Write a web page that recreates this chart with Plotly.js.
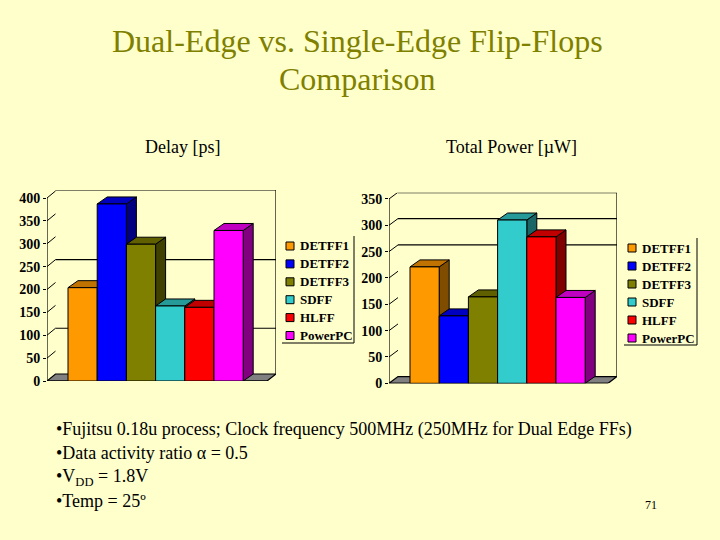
<!DOCTYPE html>
<html><head><meta charset="utf-8">
<script src="https://cdn.plot.ly/plotly-3.0.1.min.js"></script>
<style>html,body{margin:0;padding:0;background:#FFFFCC}</style>
</head><body><div id="chart" style="width:720px;height:540px"></div>
<script>
var seriesNames = ['DETFF1','DETFF2','DETFF3','SDFF','HLFF','PowerPC'];
var delayValues = [204,387,299,164,161,329];
var powerValues = [221,128,164,310,278,163];
var frontColors = ['#FF9900','#0000FF','#808000','#33CCCC','#FF0000','#FF00FF'];
var topColors   = ['#C07300','#0000C0','#606000','#269999','#C00000','#C000C0'];
var sideColors  = ['#804D00','#000080','#404000','#1A6666','#800000','#800080'];
var delayTicks = [0,50,100,150,200,250,300,350,400];
var powerTicks = [0,50,100,150,200,250,300,350];
var delayGrid = [100,250];
var powerGrid = [250,300];

var W = 720, H = 540, SERIF = '"Liberation Serif", serif';
var shapes = [], annotations = [], layout = {
  width: W, height: H, margin: {l:0,r:0,t:0,b:0}, paper_bgcolor:'#FFFFCC', plot_bgcolor:'rgba(0,0,0,0)',
  showlegend:false, font:{family:SERIF,color:'#000'}, bargap:0
};
var px = function(x){return x/W;}, py = function(y){return 1-y/H;};

function addChart(n, values, ticks, grid, g, leg){
  var xn='x'+(n===1?'':n), yn='y'+(n===1?'':n);
  var unitY = g.yPerUnit, unitX = g.barW;
  var xMin = -0.5-(g.barL-g.left)/unitX, xMax = xMin+(g.right-g.left)/unitX;
  var yMax = (g.zero-g.top)/unitY;
  layout['xaxis'+(n===1?'':n)] = {domain:[px(g.left),px(g.right)], range:[xMin,xMax], type:'category',
    categoryorder:'array', categoryarray:seriesNames, showgrid:false, zeroline:false, showline:false, ticks:'', showticklabels:false, anchor:yn};
  layout['yaxis'+(n===1?'':n)] = {domain:[py(g.zero),py(g.top)], range:[0,yMax], tickvals:ticks, showgrid:false, zeroline:false, showline:false,
    ticks:'outside', ticklen:3, tickwidth:1, tickcolor:'#000', tickfont:{family:SERIF,size:14,weight:'bold',color:'#000'}, anchor:xn};
  var wx=g.wallDx/unitX, wy=g.wallDy/unitY, bx=g.barDx/unitX, by=g.barDy/unitY;
  var xFront=xMin+g.floorW/unitX, maxTick=ticks[ticks.length-1];
  function path(pts,fill,lw){
    shapes.push({type:'path',xref:xn,yref:yn,layer:'below',
      path:'M'+pts.map(function(p){return p[0]+','+p[1];}).join('L')+(fill?'Z':''),
      fillcolor:fill||'rgba(0,0,0,0)',line:{color:'#000',width:lw||1.2}});
  }
  // floor
  path([[xMin,0],[xMin+wx,wy],[xMax,wy],[xFront,0]],'#808080');
  // back wall frame and gridlines
  path([[xMin+wx,yMax],[xMax,yMax],[xMax,wy]]);
  grid.forEach(function(v){ path([[xMin+wx,v+wy],[xMax,v+wy]]); });
  // diagonal stubs at the ticks
  ticks.forEach(function(v){ if(v>0) path([[xMin,v],[xMin+wx,v+wy]],null,1); });
  // axis lines
  path([[xMin,0],[xMin,maxTick]]);
  path([[xMin,0],[xFront,0]]);
  // 3D faces, painted from left to right
  values.forEach(function(v,i){
    var l=i-0.5, r=i+0.5;
    path([[r,0],[r+bx,by],[r+bx,v+by],[r,v]],sideColors[i],1);
    path([[l,v],[l+bx,v+by],[r+bx,v+by],[r,v]],topColors[i],1);
  });
  // legend
  function line(x0,y0,x1,y1){shapes.push({type:'line',xref:'paper',yref:'paper',x0:px(x0),y0:py(y0),x1:px(x1),y1:py(y1),line:{color:'#000',width:1}});}
  line(leg.right,leg.top,leg.right,leg.bottom);
  line(leg.left,leg.bottom,leg.right,leg.bottom);
  seriesNames.forEach(function(name,i){
    var cy=leg.first+i*leg.step;
    shapes.push({type:'rect',xref:'paper',yref:'paper',x0:px(leg.sw),x1:px(leg.sw+8),y0:py(cy-4),y1:py(cy+4),
      fillcolor:frontColors[i],line:{color:'#000',width:1}});
    annotations.push({xref:'paper',yref:'paper',x:px(leg.sw+12),y:py(cy),xanchor:'left',yanchor:'middle',showarrow:false,
      text:name,font:{family:SERIF,size:13,weight:'bold',color:'#000'}});
  });
  return {type:'bar',x:seriesNames,y:values,width:1,xaxis:xn,yaxis:yn,
    marker:{color:frontColors,line:{color:'#000',width:1}},hoverinfo:'x+y'};
}

var traces = [
  addChart(1,delayValues,delayTicks,delayGrid,
    {left:47,right:276,top:190,zero:381,yPerUnit:0.4575,barL:68,barW:29.2,floorW:220,wallDx:8.5,wallDy:7,barDx:10,barDy:7},
    {left:282,right:354,top:236,bottom:343,sw:286,first:246,step:17.9}),
  addChart(2,powerValues,powerTicks,powerGrid,
    {left:389,right:617,top:192.7,zero:383.3,yPerUnit:0.5267,barL:410,barW:29.2,floorW:219,wallDx:9,wallDy:6.7,barDx:10,barDy:7},
    {left:624,right:697,top:238,bottom:345,sw:628,first:248,step:18})
];

function text(x,y,str,size,color,anchor){
  annotations.push({xref:'paper',yref:'paper',x:px(x),y:py(y),xanchor:anchor||'center',yanchor:'middle',showarrow:false,
    text:str,font:{family:SERIF,size:size,color:color||'#000'}});
}
text(357,41,'Dual-Edge vs. Single-Edge Flip-Flops',32,'#808000');
text(357,79,'Comparison',32,'#808000');
text(182,147,'Delay [ps]',18);
text(511,147,'Total Power [µW]',18);
text(54,429,'•Fujitsu 0.18u process; Clock frequency 500MHz (250MHz for Dual Edge FFs)',18,'#000','left');
text(54,453,'•Data activity ratio α = 0.5',18,'#000','left');
text(54,477,'•V<sub>DD</sub> = 1.8V',18,'#000','left');
text(54,501,'•Temp = 25º',18,'#000','left');
text(651,505,'71',12);

layout.shapes = shapes;
layout.annotations = annotations;
Plotly.newPlot('chart',traces,layout,{displayModeBar:false,staticPlot:true});
</script></body></html>
